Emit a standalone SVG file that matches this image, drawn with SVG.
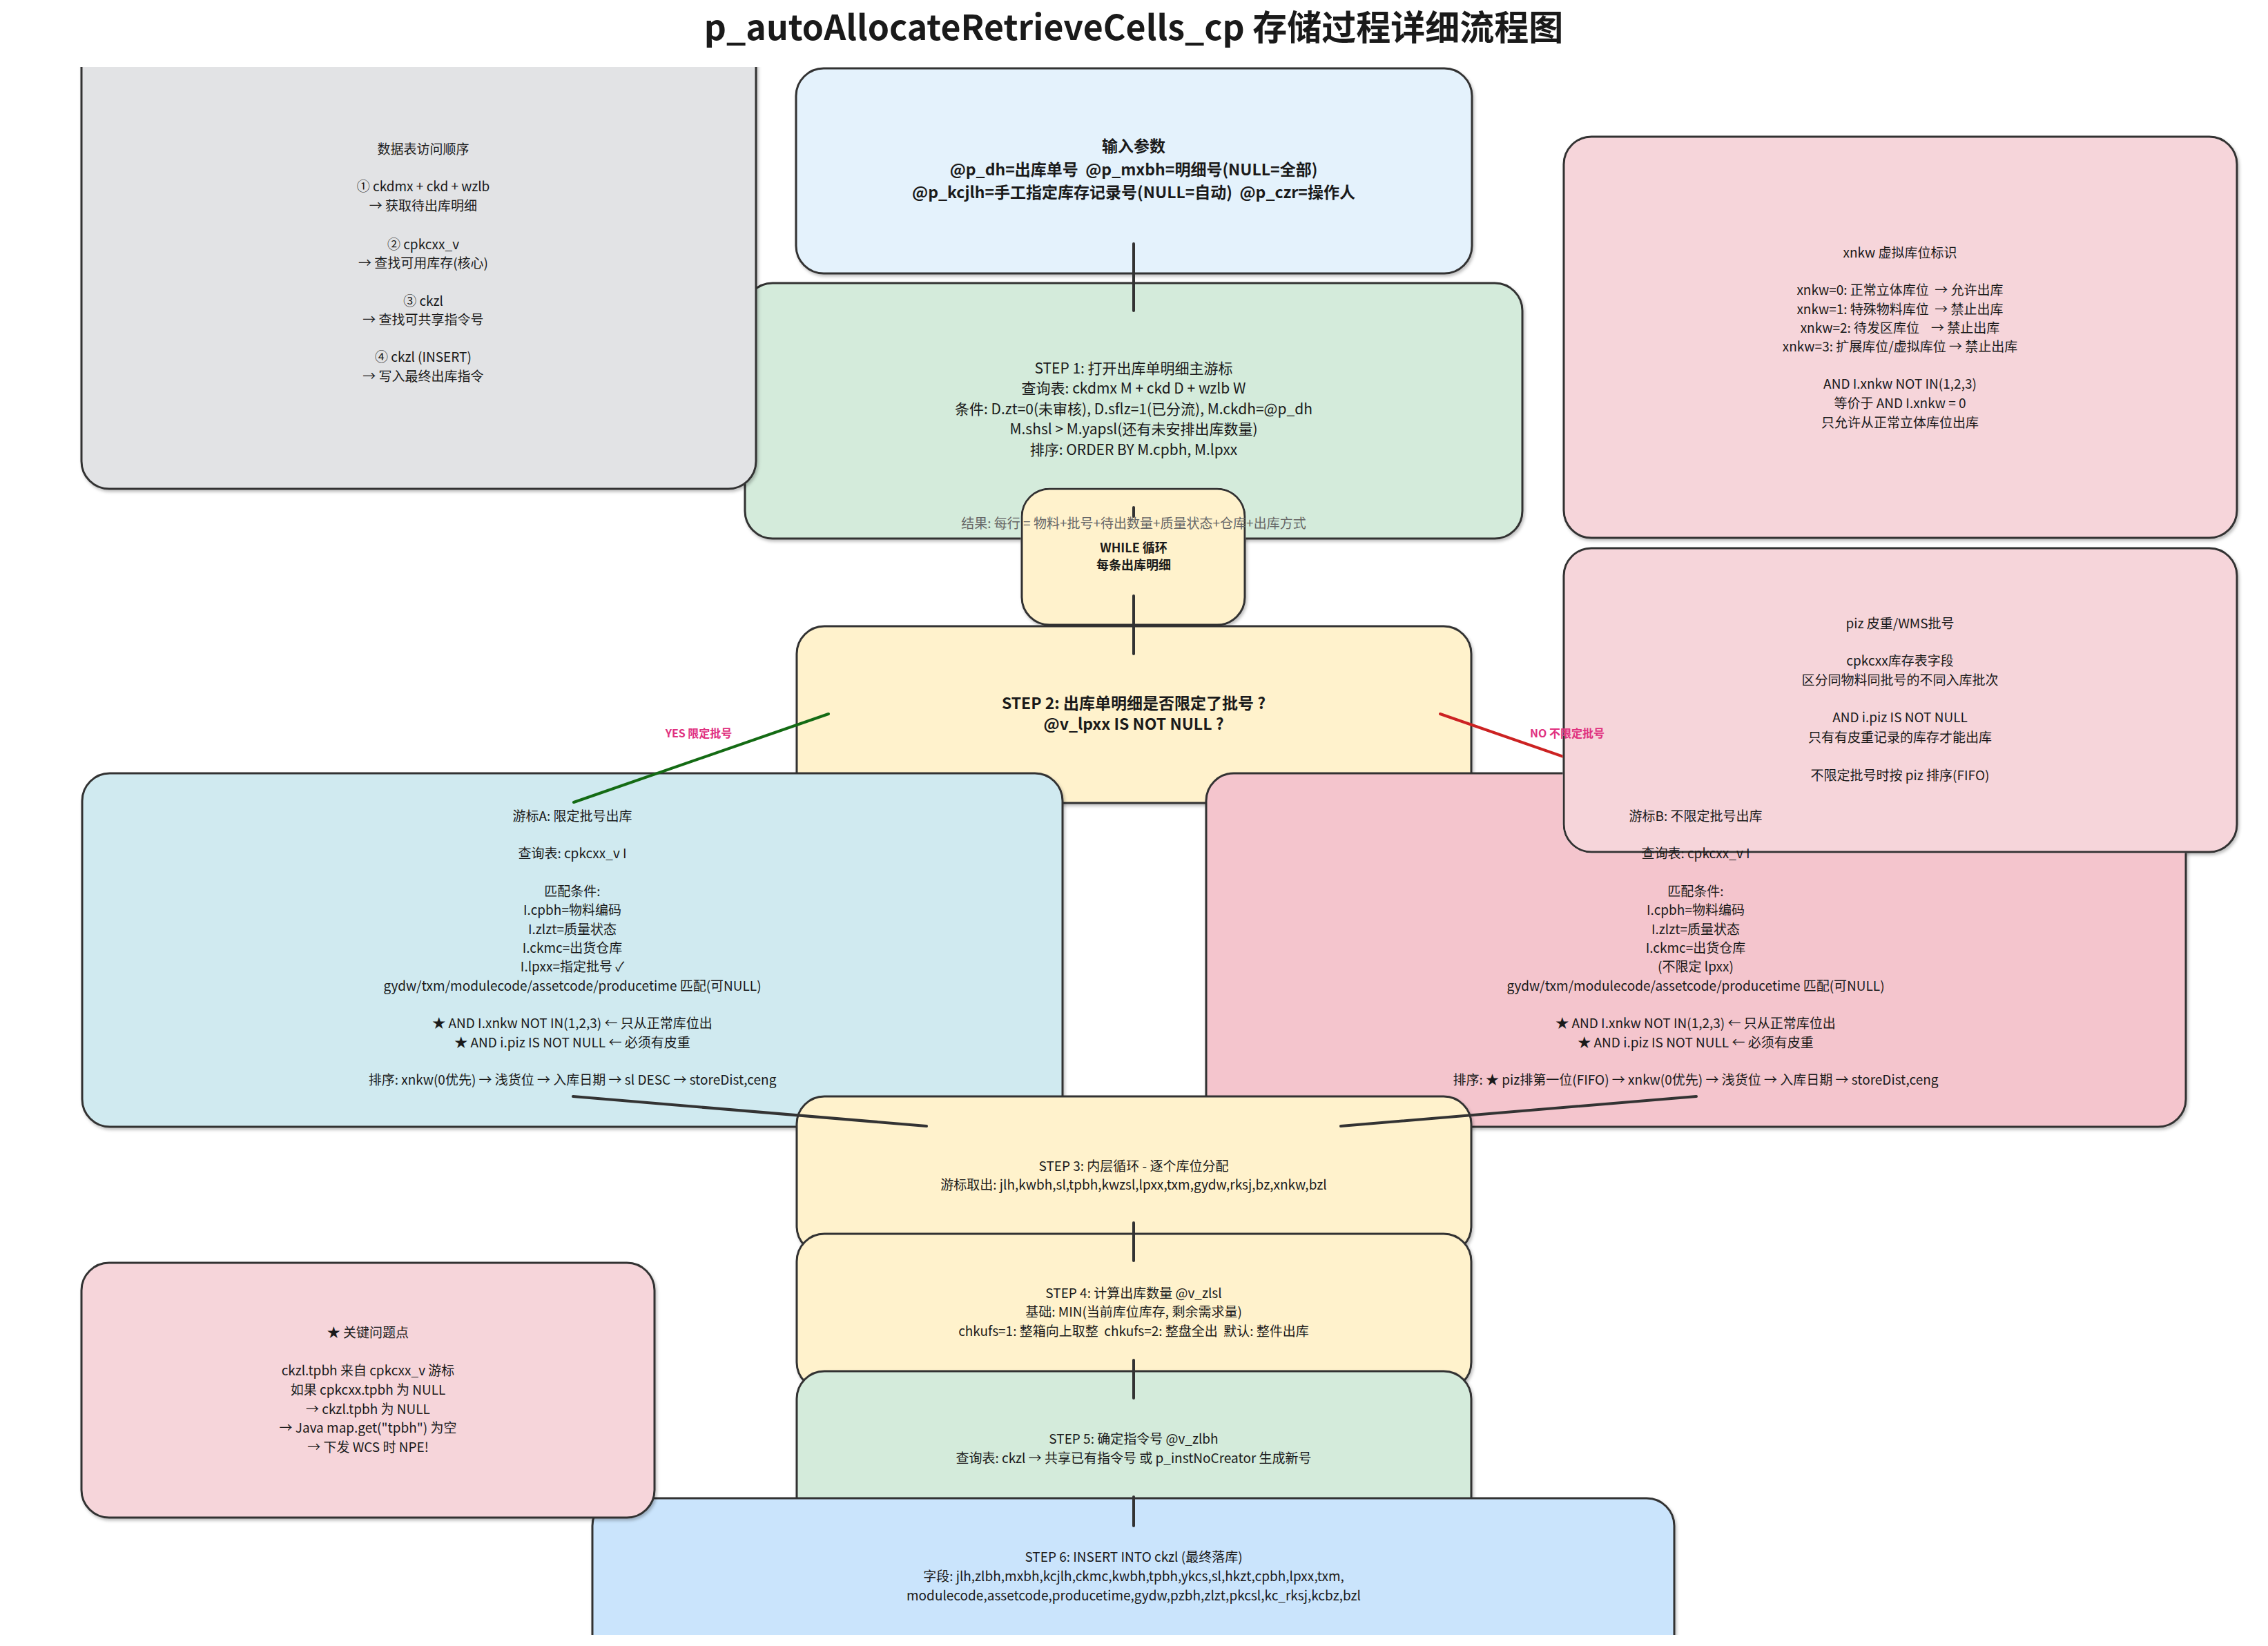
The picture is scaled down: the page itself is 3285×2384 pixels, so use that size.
<svg xmlns="http://www.w3.org/2000/svg" width="3285" height="2384" viewBox="0 0 3285 2384">
<style>
text{font-family:"Noto Sans CJK SC","Noto Sans",sans-serif;font-size:19px;fill:#1a1a1a;text-anchor:middle;white-space:pre}
.b{font-weight:700}
.big{font-size:23px}
.s1{font-size:21px}
.box{stroke:#333;stroke-width:3;filter:url(#sh)}
.edge{stroke:#333;stroke-width:4;stroke-linecap:round;fill:none}
.gray{fill:#666}
.lbl{font-size:16px;font-weight:700;fill:#E0317F}
</style>
<defs>
<filter id="sh" x="-5%" y="-5%" width="110%" height="115%"><feDropShadow dx="2" dy="3" stdDeviation="2" flood-color="#000" flood-opacity="0.25"/></filter>
<clipPath id="notWhile"><path clip-rule="evenodd" d="M0 0H3285V2384H0Z M1520 706.5 H1763 A41.5 41.5 0 0 1 1804.5 748 V865 A41.5 41.5 0 0 1 1763 906.5 H1520 A41.5 41.5 0 0 1 1478.5 865 V748 A41.5 41.5 0 0 1 1520 706.5 Z"/></clipPath>
<clipPath id="notPiz"><path clip-rule="evenodd" d="M0 0H3285V2384H0Z M2305 792.5 H3200 A41.5 41.5 0 0 1 3241.5 834 V1194 A41.5 41.5 0 0 1 3200 1235.5 H2305 A41.5 41.5 0 0 1 2263.5 1194 V834 A41.5 41.5 0 0 1 2305 792.5 Z"/></clipPath>
</defs>
<rect width="3285" height="2384" fill="#fff"/>

<g id="n-input">
<rect class="box" x="1153" y="99" width="979" height="297" rx="40" fill="#E4F2FC"/>
<text class="b big" x="1642" y="220">输入参数</text>
<text class="b big" x="1642" y="254">@p_dh=出库单号  @p_mxbh=明细号(NULL=全部)</text>
<text class="b big" x="1642" y="287">@p_kcjlh=手工指定库存记录号(NULL=自动)  @p_czr=操作人</text>
</g>

<g id="n-while">
<rect class="box" x="1480" y="708" width="323" height="197" rx="40" fill="#FFF2CC"/>
<text class="b" x="1642" y="800" style="font-size:18px">WHILE 循环</text>
<text class="b" x="1642" y="825" style="font-size:18px">每条出库明细</text>
</g>

<g id="n-step1" clip-path="url(#notWhile)">
<rect class="box" x="1079" y="410" width="1126" height="370" rx="40" fill="#D4EBDB"/>
<text class="s1" x="1642" y="541">STEP 1: 打开出库单明细主游标</text>
<text class="s1" x="1642" y="570">查询表: ckdmx M + ckd D + wzlb W</text>
<text class="s1" x="1642" y="600">条件: D.zt=0(未审核), D.sflz=1(已分流), M.ckdh=@p_dh</text>
<text class="s1" x="1642" y="629">M.shsl &gt; M.yapsl(还有未安排出库数量)</text>
<text class="s1" x="1642" y="659">排序: ORDER BY M.cpbh, M.lpxx</text>
</g>

<g id="n-step2">
<rect class="box" x="1154" y="907" width="977" height="256" rx="40" fill="#FFF2CC"/>
<text class="b big" x="1642" y="1027">STEP 2: 出库单明细是否限定了批号 ?</text>
<text class="b big" x="1642" y="1057">@v_lpxx IS NOT NULL ?</text>
</g>

<g id="n-cursorA">
<rect class="box" x="119" y="1120" width="1420" height="512" rx="40" fill="#D0EAF0"/>
<text x="829" y="1189">游标A: 限定批号出库</text>
<text x="829" y="1243">查询表: cpkcxx_v I</text>
<text x="829" y="1298">匹配条件:</text>
<text x="829" y="1325">I.cpbh=物料编码</text>
<text x="829" y="1353">I.zlzt=质量状态</text>
<text x="829" y="1380">I.ckmc=出货仓库</text>
<text x="829" y="1407">I.lpxx=指定批号 ✓</text>
<text x="829" y="1435">gydw/txm/modulecode/assetcode/producetime 匹配(可NULL)</text>
<text x="829" y="1489">★ AND I.xnkw NOT IN(1,2,3) ← 只从正常库位出</text>
<text x="829" y="1517">★ AND i.piz IS NOT NULL ← 必须有皮重</text>
<text x="829" y="1571">排序: xnkw(0优先) → 浅货位 → 入库日期 → sl DESC → storeDist,ceng</text>
</g>

<g id="n-piz">
<rect class="box" x="2265" y="794" width="975" height="440" rx="40" fill="#F6D5DA"/>
<text x="2752" y="910">piz 皮重/WMS批号</text>
<text x="2752" y="964">cpkcxx库存表字段</text>
<text x="2752" y="992">区分同物料同批号的不同入库批次</text>
<text x="2752" y="1046">AND i.piz IS NOT NULL</text>
<text x="2752" y="1075">只有有皮重记录的库存才能出库</text>
<text x="2752" y="1130">不限定批号时按 piz 排序(FIFO)</text>
</g>

<g id="n-cursorB">
<rect class="box" x="1747" y="1120" width="1419" height="512" rx="40" fill="#F4C5CD" clip-path="url(#notPiz)"/>
<text x="2456" y="1189">游标B: 不限定批号出库</text>
<text x="2456" y="1243">查询表: cpkcxx_v I</text>
<text x="2456" y="1298">匹配条件:</text>
<text x="2456" y="1325">I.cpbh=物料编码</text>
<text x="2456" y="1353">I.zlzt=质量状态</text>
<text x="2456" y="1380">I.ckmc=出货仓库</text>
<text x="2456" y="1407">(不限定 lpxx)</text>
<text x="2456" y="1435">gydw/txm/modulecode/assetcode/producetime 匹配(可NULL)</text>
<text x="2456" y="1489">★ AND I.xnkw NOT IN(1,2,3) ← 只从正常库位出</text>
<text x="2456" y="1517">★ AND i.piz IS NOT NULL ← 必须有皮重</text>
<text x="2456" y="1571">排序: ★ piz排第一位(FIFO) → xnkw(0优先) → 浅货位 → 入库日期 → storeDist,ceng</text>
</g>

<g id="n-step3">
<rect class="box" x="1154" y="1588" width="977" height="228" rx="40" fill="#FFF2CC"/>
<text x="1642" y="1696">STEP 3: 内层循环 - 逐个库位分配</text>
<text x="1642" y="1723">游标取出: jlh,kwbh,sl,tpbh,kwzsl,lpxx,txm,gydw,rksj,bz,xnkw,bzl</text>
</g>

<g id="n-step4">
<rect class="box" x="1154" y="1787" width="977" height="226" rx="40" fill="#FFF2CC"/>
<text x="1642" y="1880">STEP 4: 计算出库数量 @v_zlsl</text>
<text x="1642" y="1907">基础: MIN(当前库位库存, 剩余需求量)</text>
<text x="1642" y="1935">chkufs=1: 整箱向上取整  chkufs=2: 整盘全出  默认: 整件出库</text>
</g>

<g id="n-step5">
<rect class="box" x="1154" y="1986" width="977" height="224" rx="40" fill="#D4EBDB"/>
<text x="1642" y="2091">STEP 5: 确定指令号 @v_zlbh</text>
<text x="1642" y="2119">查询表: ckzl → 共享已有指令号 或 p_instNoCreator 生成新号</text>
</g>

<g id="n-step6">
<rect class="box" x="858" y="2170" width="1567" height="240" rx="40" fill="#CAE4FC"/>
<text x="1642" y="2262">STEP 6: INSERT INTO ckzl (最终落库)</text>
<text x="1642" y="2290">字段: jlh,zlbh,mxbh,kcjlh,ckmc,kwbh,tpbh,ykcs,sl,hkzt,cpbh,lpxx,txm,</text>
<text x="1642" y="2318">modulecode,assetcode,producetime,gydw,pzbh,zlzt,pkcsl,kc_rksj,kcbz,bzl</text>
</g>

<g id="n-tables">
<rect class="box" x="118" y="52" width="977" height="656" rx="40" fill="#E2E3E5"/>
<text x="613" y="223">数据表访问顺序</text>
<text x="613" y="277">① ckdmx + ckd + wzlb</text>
<text x="613" y="305">→ 获取待出库明细</text>
<text x="613" y="361">② cpkcxx_v</text>
<text x="613" y="388">→ 查找可用库存(核心)</text>
<text x="613" y="443">③ ckzl</text>
<text x="613" y="470">→ 查找可共享指令号</text>
<text x="613" y="524">④ ckzl (INSERT)</text>
<text x="613" y="552">→ 写入最终出库指令</text>
</g>

<g id="n-xnkw">
<rect class="box" x="2265" y="198" width="975" height="581" rx="40" fill="#F6D5DA"/>
<text x="2752" y="373">xnkw 虚拟库位标识</text>
<text x="2752" y="427">xnkw=0: 正常立体库位  → 允许出库</text>
<text x="2752" y="455">xnkw=1: 特殊物料库位  → 禁止出库</text>
<text x="2752" y="482">xnkw=2: 待发区库位    → 禁止出库</text>
<text x="2752" y="509">xnkw=3: 扩展库位/虚拟库位 → 禁止出库</text>
<text x="2752" y="563">AND I.xnkw NOT IN(1,2,3)</text>
<text x="2752" y="591">等价于 AND I.xnkw = 0</text>
<text x="2752" y="619">只允许从正常立体库位出库</text>
</g>

<g id="n-ckzl">
<rect class="box" x="118" y="1829" width="830" height="369" rx="40" fill="#F6D5DA"/>
<text x="533" y="1937">★ 关键问题点</text>
<text x="533" y="1992">ckzl.tpbh 来自 cpkcxx_v 游标</text>
<text x="533" y="2020">如果 cpkcxx.tpbh 为 NULL</text>
<text x="533" y="2048">→ ckzl.tpbh 为 NULL</text>
<text x="533" y="2075">→ Java map.get("tpbh") 为空</text>
<text x="533" y="2103">→ 下发 WCS 时 NPE!</text>
</g>

<g id="connectors">
<line class="edge" x1="1642" y1="353" x2="1642" y2="450"/>
<line class="edge" x1="1642" y1="735" x2="1642" y2="748"/>
<line class="edge" x1="1642" y1="863" x2="1642" y2="947"/>
<line class="edge" x1="1200" y1="1034" x2="831" y2="1162" style="stroke:#146B14"/>
<line class="edge" x1="2086" y1="1034" x2="2455" y2="1162" style="stroke:#CC2222" clip-path="url(#notPiz)"/>
<line class="edge" x1="830" y1="1588" x2="1342" y2="1631"/>
<line class="edge" x1="2457" y1="1588" x2="1942" y2="1631"/>
<line class="edge" x1="1642" y1="1771" x2="1642" y2="1826"/>
<line class="edge" x1="1642" y1="1970" x2="1642" y2="2025"/>
<line class="edge" x1="1642" y1="2168" x2="1642" y2="2210"/>
<text class="lbl" x="1012" y="1068">YES 限定批号</text>
<text class="lbl" x="2270" y="1068">NO 不限定批号</text>
</g>

<g id="step1-result">
<text class="gray" x="1642" y="765">结果: 每行 = 物料+批号+待出数量+质量状态+仓库+出库方式</text>
</g>

<g id="title">
<rect x="0" y="0" width="3285" height="97" fill="#fff"/>
<rect x="0" y="2368" width="3285" height="16" fill="#fff"/>
<text class="b" x="1642" y="58" style="font-size:50px">p_autoAllocateRetrieveCells_cp 存储过程详细流程图</text>
</g>
</svg>
